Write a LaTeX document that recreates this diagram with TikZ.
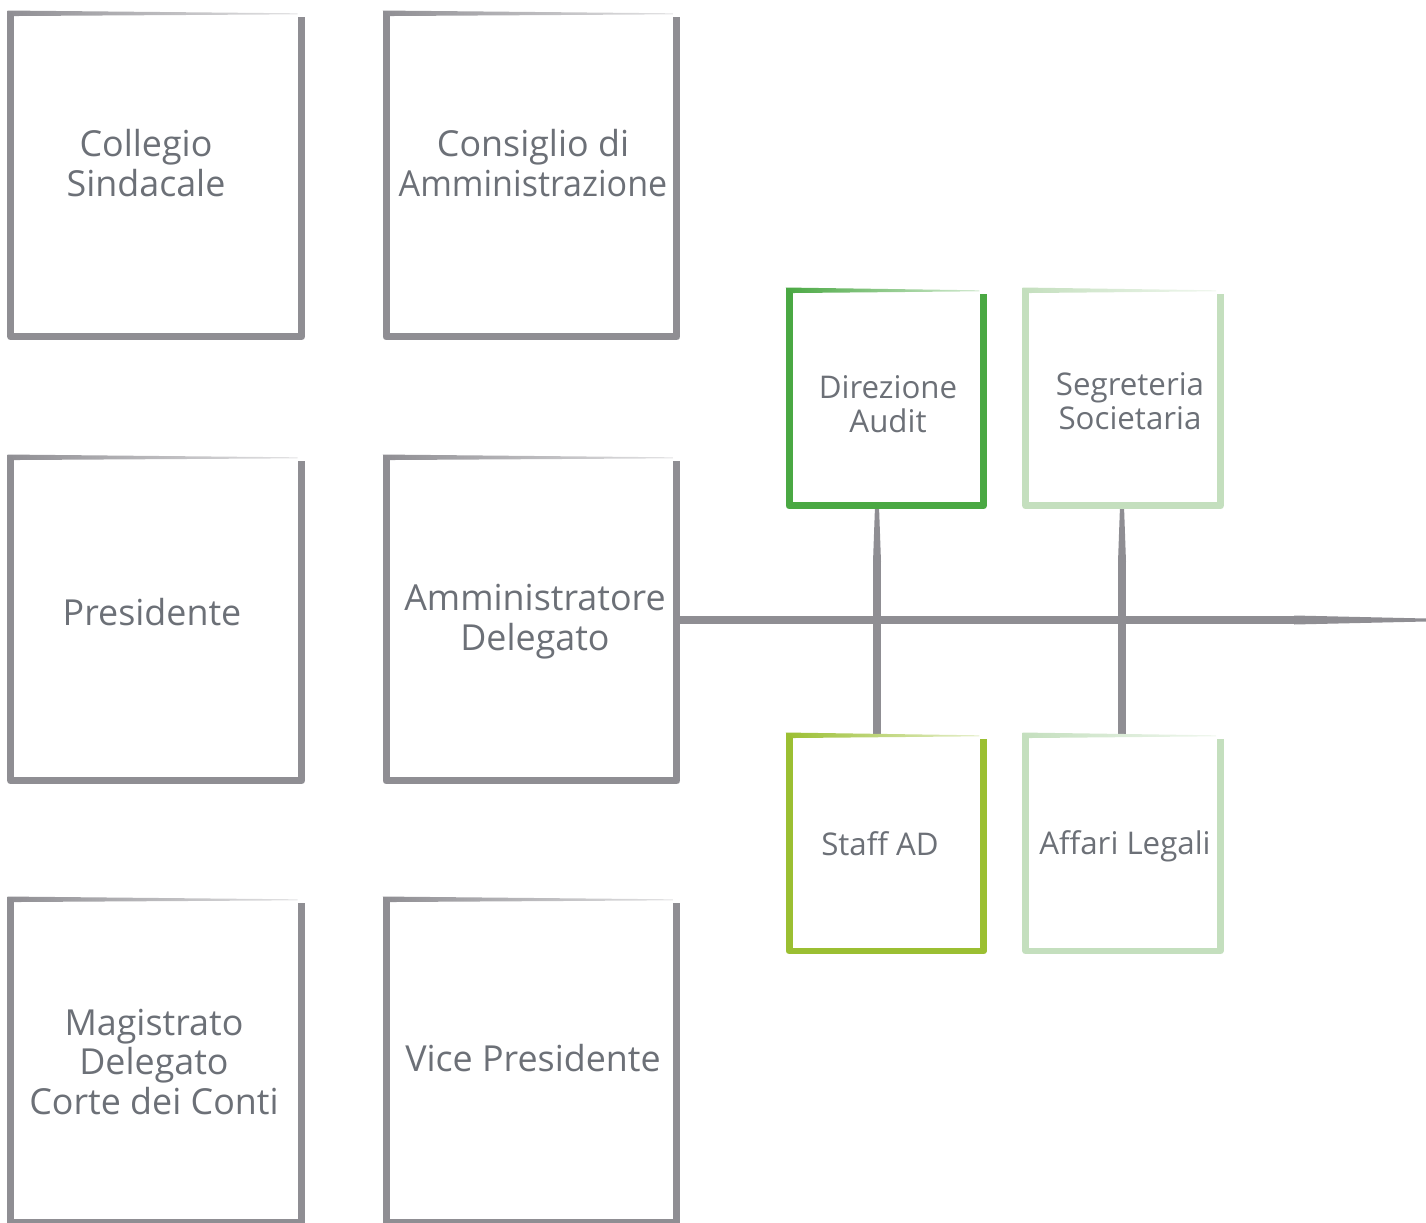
\documentclass[tikz,border=0pt]{standalone}
\usepackage{fontspec}
\setmainfont{Open Sans}
\usepackage{graphicx}
\usetikzlibrary{calc}
\definecolor{boxgray}{HTML}{8F8E93}
\definecolor{txtgray}{HTML}{6C7077}
\definecolor{audgreen}{HTML}{4AA843}
\definecolor{staffgreen}{HTML}{9BBF32}
\definecolor{lightgreen}{HTML}{C4DFBE}
\newcommand\brushframe[2]{%
  \draw[#2, line width=3.97pt, line join=round]
    ($(#1.north east)+(0,4)$) -- (#1.south east) -- (#1.south west) -- ($(#1.north west)+(0,-2)$);
  \shade[left color=#2, middle color=#2!85, right color=#2!25, draw=none]
    ($(#1.north west)+(-3.5,-2.5)$) -- ($(#1.north east)+(-4,0.3)$) --
    ($(#1.north east)+(-4,1.3)$) -- ($(#1.north west)+(3.5,3)$) -- cycle;
}
\begin{document}
\begin{tikzpicture}[x=0.02cm, y=-0.02cm,
  bigbox/.style={rectangle, inner sep=0pt, outer sep=0pt, minimum width=5.82cm, minimum height=6.48cm},
  smallbox/.style={rectangle, inner sep=0pt, outer sep=0pt, minimum width=3.89cm, minimum height=4.32cm},
  bigtxt/.style={text=txtgray, align=center, inner sep=0pt, font=\fontsize{20.4}{22.7}\selectfont},
  smalltxt/.style={text=txtgray, align=center, inner sep=0pt, font=\fontsize{17.8}{19.3}\selectfont},
  conn/.style={boxgray, line width=4.54pt}]
\useasboundingbox (0,0) rectangle (1426,1223);

% boxes
\node[bigbox] (cs)  at (156.25,175) {};
\node[bigbox] (cda) at (531.5,175) {};
\node[bigbox] (pres) at (156.25,619) {};
\node[bigbox] (ad)  at (531.5,619) {};
\node[bigbox] (mag) at (156.25,1061) {};
\node[bigbox] (vp)  at (531.5,1061) {};
\node[smallbox] (da)  at (886.25,398) {};
\node[smallbox] (ss)  at (1123,398) {};
\node[smallbox] (sad) at (886.25,843) {};
\node[smallbox] (al)  at (1123,843) {};

% connectors
\coordinate (hend) at (1426,620);
\coordinate (v1) at (877,620);
\coordinate (v2) at (1122,620);
\draw[boxgray, line width=5.1pt] (ad.east |- hend) -- ($(hend)+(-132,0)$);
\fill[boxgray] ($(hend)+(-132,-4.5)$) -- ($(hend)+(0,-1.5)$) -- ($(hend)+(0,1.5)$) -- ($(hend)+(-132,4.5)$) -- cycle;
\fill[boxgray] ($(v1 |- da.south)+(-2,0)$) -- ($(v1 |- da.south)+(2,0)$) -- ($(v1 |- da.south)+(4,56)$) -- ($(v1 |- da.south)+(-4,56)$) -- cycle;
\draw[conn] ($(v1 |- da.south)+(0,55)$) -- (v1 |- sad.north);
\fill[boxgray] ($(v2 |- ss.south)+(-2,0)$) -- ($(v2 |- ss.south)+(2,0)$) -- ($(v2 |- ss.south)+(4,56)$) -- ($(v2 |- ss.south)+(-4,56)$) -- cycle;
\draw[conn] ($(v2 |- ss.south)+(0,55)$) -- (v2 |- al.north);

% frames
\brushframe{cs}{boxgray}
\brushframe{cda}{boxgray}
\brushframe{pres}{boxgray}
\brushframe{ad}{boxgray}
\brushframe{mag}{boxgray}
\brushframe{vp}{boxgray}
\brushframe{da}{audgreen}
\brushframe{ss}{lightgreen}
\brushframe{sad}{staffgreen}
\brushframe{al}{lightgreen}

% texts
\node[bigtxt] (cs-t) at (146,163) {Collegio\\Sindacale};
\node[bigtxt] (cda-t) at (533,163) {Consiglio di\\\scalebox{0.95}[1]{Amministrazione}};
\node[bigtxt] (pres-t) at (152,612) {Presidente};
\node[bigtxt] (ad-t) at (535,622) {Amministratore\\Delegato};
\node[bigtxt] (mag-t) at (154,1062) {Magistrato\\Delegato\\Corte dei Conti};
\node[bigtxt] (vp-t) at (533,1058) {Vice Presidente};
\node[smalltxt] (da-t) at (888,404) {Direzione\\Audit};
\node[smalltxt] (ss-t) at (1130,401) {Segreteria\\Societaria};
\node[smalltxt] (sad-t) at (880,844) {Staff AD};
\node[smalltxt] (al-t) at (1125,846) {Affari Legali};
\end{tikzpicture}
\end{document}
